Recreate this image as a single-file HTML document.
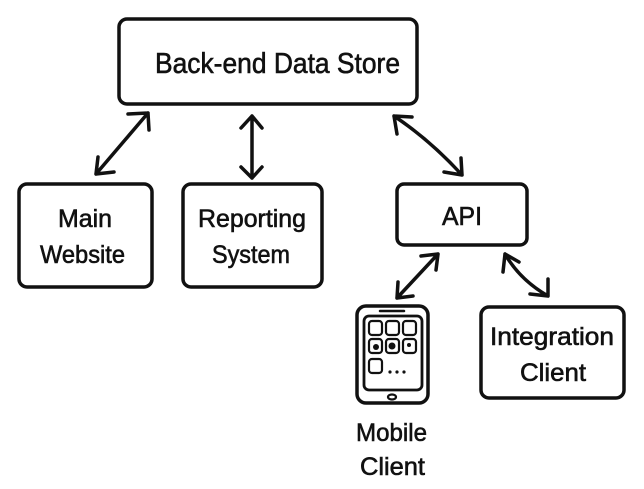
<!DOCTYPE html>
<html><head><meta charset="utf-8"><style>
html,body{margin:0;padding:0;background:#fff;width:644px;height:489px;overflow:hidden}
text{font-family:"Liberation Sans",sans-serif;fill:#111}
</style></head><body>
<svg width="644" height="489" viewBox="0 0 644 489" xmlns="http://www.w3.org/2000/svg">
<g fill="none" stroke="#111" stroke-width="3.5" stroke-linecap="round" stroke-linejoin="round">
<rect x="119" y="19" width="298" height="85" rx="8"/>
<rect x="19" y="184" width="133" height="103" rx="8"/>
<rect x="183" y="184" width="139" height="103" rx="8"/>
<rect x="397" y="184" width="130" height="61" rx="7"/>
<rect x="481" y="307" width="143" height="91" rx="8"/>
<path d="M148 113 L96 174 M128 114 L148 113 L149 130 M96 174 L98 157 M96 174 L114 172"/>
<path d="M252 116 L252 178 M241 128 L252 116 L262 128 M241 167 L252 178 L262 167"/>
<path d="M394 116 Q430 140 462 175 M394 116 L397 134 M394 116 L412 117 M462 175 L444 172 M462 175 L461 158"/>
<path d="M438 254 L397 298 M421 256 L438 254 L436 270 M397 298 L398 282 M397 298 L413 296"/>
<path d="M505 254 Q520 280 548 296 M505 254 L503 272 M505 254 L519 262 M548 296 L530 294 M548 296 L548 279"/>
<rect x="357" y="306" width="71" height="97" rx="9"/>
<rect x="364" y="316" width="58" height="74" rx="5" stroke-width="2.8"/>
<path d="M380 311 L404 311" stroke-width="2.5"/>
<ellipse cx="392" cy="397" rx="4" ry="2.5" stroke-width="2.2"/>
<g stroke-width="2.2">
<rect x="369" y="321" width="13" height="14" rx="3"/>
<rect x="386" y="321" width="13" height="14" rx="3"/>
<rect x="403" y="321" width="13" height="14" rx="3"/>
<rect x="369" y="339" width="13" height="14" rx="3"/>
<rect x="386" y="339" width="13" height="14" rx="3"/>
<rect x="403" y="339" width="13" height="14" rx="3"/>
<rect x="369" y="359" width="13" height="14" rx="3"/>
</g>
</g>
<g fill="#111"><circle cx="392" cy="346" r="3.5"/><circle cx="376" cy="347" r="3"/><circle cx="409" cy="345" r="2"/>
<circle cx="390" cy="372" r="1.6"/><circle cx="397" cy="372" r="1.6"/><circle cx="404" cy="372" r="1.6"/></g>
<g stroke="#111" stroke-width="0.6">
<text x="155" y="73" font-size="29" textLength="245" lengthAdjust="spacingAndGlyphs">Back-end Data Store</text>
<text x="58" y="227" font-size="25" textLength="54" lengthAdjust="spacingAndGlyphs">Main</text>
<text x="40" y="263" font-size="25" textLength="85" lengthAdjust="spacingAndGlyphs">Website</text>
<text x="198" y="227" font-size="25" textLength="108" lengthAdjust="spacingAndGlyphs">Reporting</text>
<text x="212" y="263" font-size="25" textLength="78" lengthAdjust="spacingAndGlyphs">System</text>
<text x="442" y="225" font-size="26" textLength="40" lengthAdjust="spacingAndGlyphs">API</text>
<text x="490" y="345" font-size="25" textLength="124" lengthAdjust="spacingAndGlyphs">Integration</text>
<text x="520" y="381" font-size="25" textLength="66" lengthAdjust="spacingAndGlyphs">Client</text>
<text x="356" y="441" font-size="25" textLength="71" lengthAdjust="spacingAndGlyphs">Mobile</text>
<text x="360" y="475" font-size="25" textLength="65" lengthAdjust="spacingAndGlyphs">Client</text>
</g>
</svg>
</body></html>
